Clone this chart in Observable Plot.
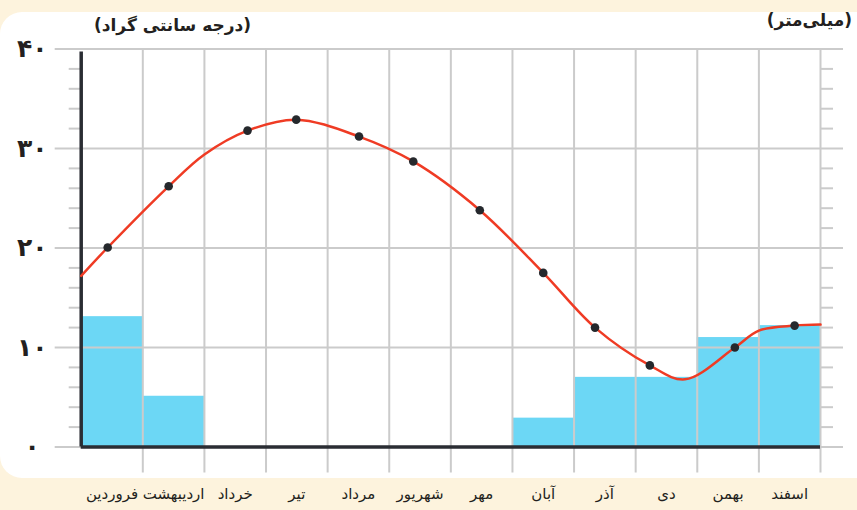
<!DOCTYPE html>
<html><head><meta charset="utf-8">
<script src="https://cdn.jsdelivr.net/npm/d3@7"></script>
<script src="https://cdn.jsdelivr.net/npm/@observablehq/plot@0.6"></script>
<style>
html,body{margin:0;padding:0;background:#fdf3dd;}
#wrap{position:relative;width:857px;height:510px;overflow:hidden;background:#fdf3dd;font-family:"DejaVu Sans",sans-serif;}
#panel{position:absolute;left:0px;top:12px;width:880px;height:466px;background:#fff;border-radius:22px;}
#chart{position:absolute;left:0;top:0;}
.ttl{position:absolute;font-weight:bold;font-size:17px;color:#231f20;direction:rtl;white-space:nowrap;font-family:"DejaVu Sans",sans-serif;}
</style></head><body>
<div id="wrap"><div id="panel"></div><div id="chart"></div>
<div class="ttl" style="left:94px;top:15px">(درجه سانتی گراد)</div>
<div class="ttl" style="right:5px;top:10px">(میلی‌متر)</div>
</div>
<script>
const months = ["فروردین","اردیبهشت","خرداد","تیر","مرداد","شهریور","مهر","آبان","آذر","دی","بهمن","اسفند"];
const precipitation = [13.1, 5.1, 0, 0, 0, 0, 0, 2.9, 7.0, 7.0, 11.0, 12.2];
// temperature dots: position along the year (in months) and value
const tempPos = [0.43, 1.42, 2.70, 3.49, 4.51, 5.39, 6.47, 7.50, 8.34, 9.23, 10.61, 11.58];
const temperature = [20.05, 26.2, 31.8, 32.9, 31.2, 28.7, 23.8, 17.5, 12.0, 8.2, 10.0, 12.2];
// readings of the smooth temperature curve where it is far from the dots
const curvePos = [0, 2, 9.8, 11, 12];
const curveTemp = [17.2, 29.4, 6.8, 11.7, 12.3];
const yTicks = [0, 10, 20, 30, 40];
const yTickLabels = ["۰", "۱۰", "۲۰", "۳۰", "۴۰"];
const minorTicks = [2, 4, 6, 8, 12, 14, 16, 18, 22, 24, 26, 28, 32, 34, 36, 38];
const monthEdges = [1, 2, 3, 4, 5, 6, 7, 8, 9, 10, 11, 12];

const bars = months.map((m, i) => ({i, month: m, p: precipitation[i]}));
const dots = tempPos.map((x, i) => ({x, t: temperature[i]}));
const curve = curvePos.map((x, i) => ({x, t: curveTemp[i]})).concat(dots).sort((a, b) => a.x - b.x);
const grid = "#cbcbcb", dark = "#2a2d33";

const chart = Plot.plot({
  width: 857, height: 510,
  marginLeft: 80.7, marginRight: 37, marginTop: 48.5, marginBottom: 63.5,
  x: {type: "linear", domain: [0, 12], axis: null},
  y: {domain: [0, 40], axis: null},
  style: {background: "transparent", fontFamily: "DejaVu Sans", overflow: "visible"},
  marks: [
    Plot.rectY(bars, {x1: d => d.i, x2: d => d.i + 1, y: "p", fill: "#6cd7f5"}),
    Plot.ruleY(yTicks, {stroke: grid, strokeWidth: 2, insetLeft: -26, insetRight: -23}),
    Plot.ruleX(monthEdges, {stroke: grid, strokeWidth: 2, insetBottom: -26}),
    Plot.ruleY(minorTicks, {x1: 0, x2: 0, insetLeft: -12, stroke: grid, strokeWidth: 2}),
    Plot.ruleY(minorTicks, {x1: 12, x2: 12, insetRight: -13, stroke: grid, strokeWidth: 2}),
    Plot.ruleX([0], {stroke: dark, strokeWidth: 3.5, insetTop: 3}),
    Plot.ruleY([0], {stroke: dark, strokeWidth: 3.5}),
    Plot.line(curve, {x: "x", y: "t", curve: "catmull-rom", stroke: "#ef3b24", strokeWidth: 2.5}),
    Plot.dot(dots, {x: "x", y: "t", r: 4.3, fill: "#25282c", stroke: null}),
    Plot.text(yTicks, {x: 0, y: d => d, text: (d, i) => yTickLabels[i], dx: -49, fontSize: 25, fontWeight: "bold", fill: "#231f20", textAnchor: "middle"}),
    Plot.text(bars, {x: d => d.i + 0.5, y: 0, text: "month", dy: 47, fontSize: 15, fill: "#231f20"})
  ]
});
document.getElementById("chart").appendChild(chart);
</script>
</body></html>
